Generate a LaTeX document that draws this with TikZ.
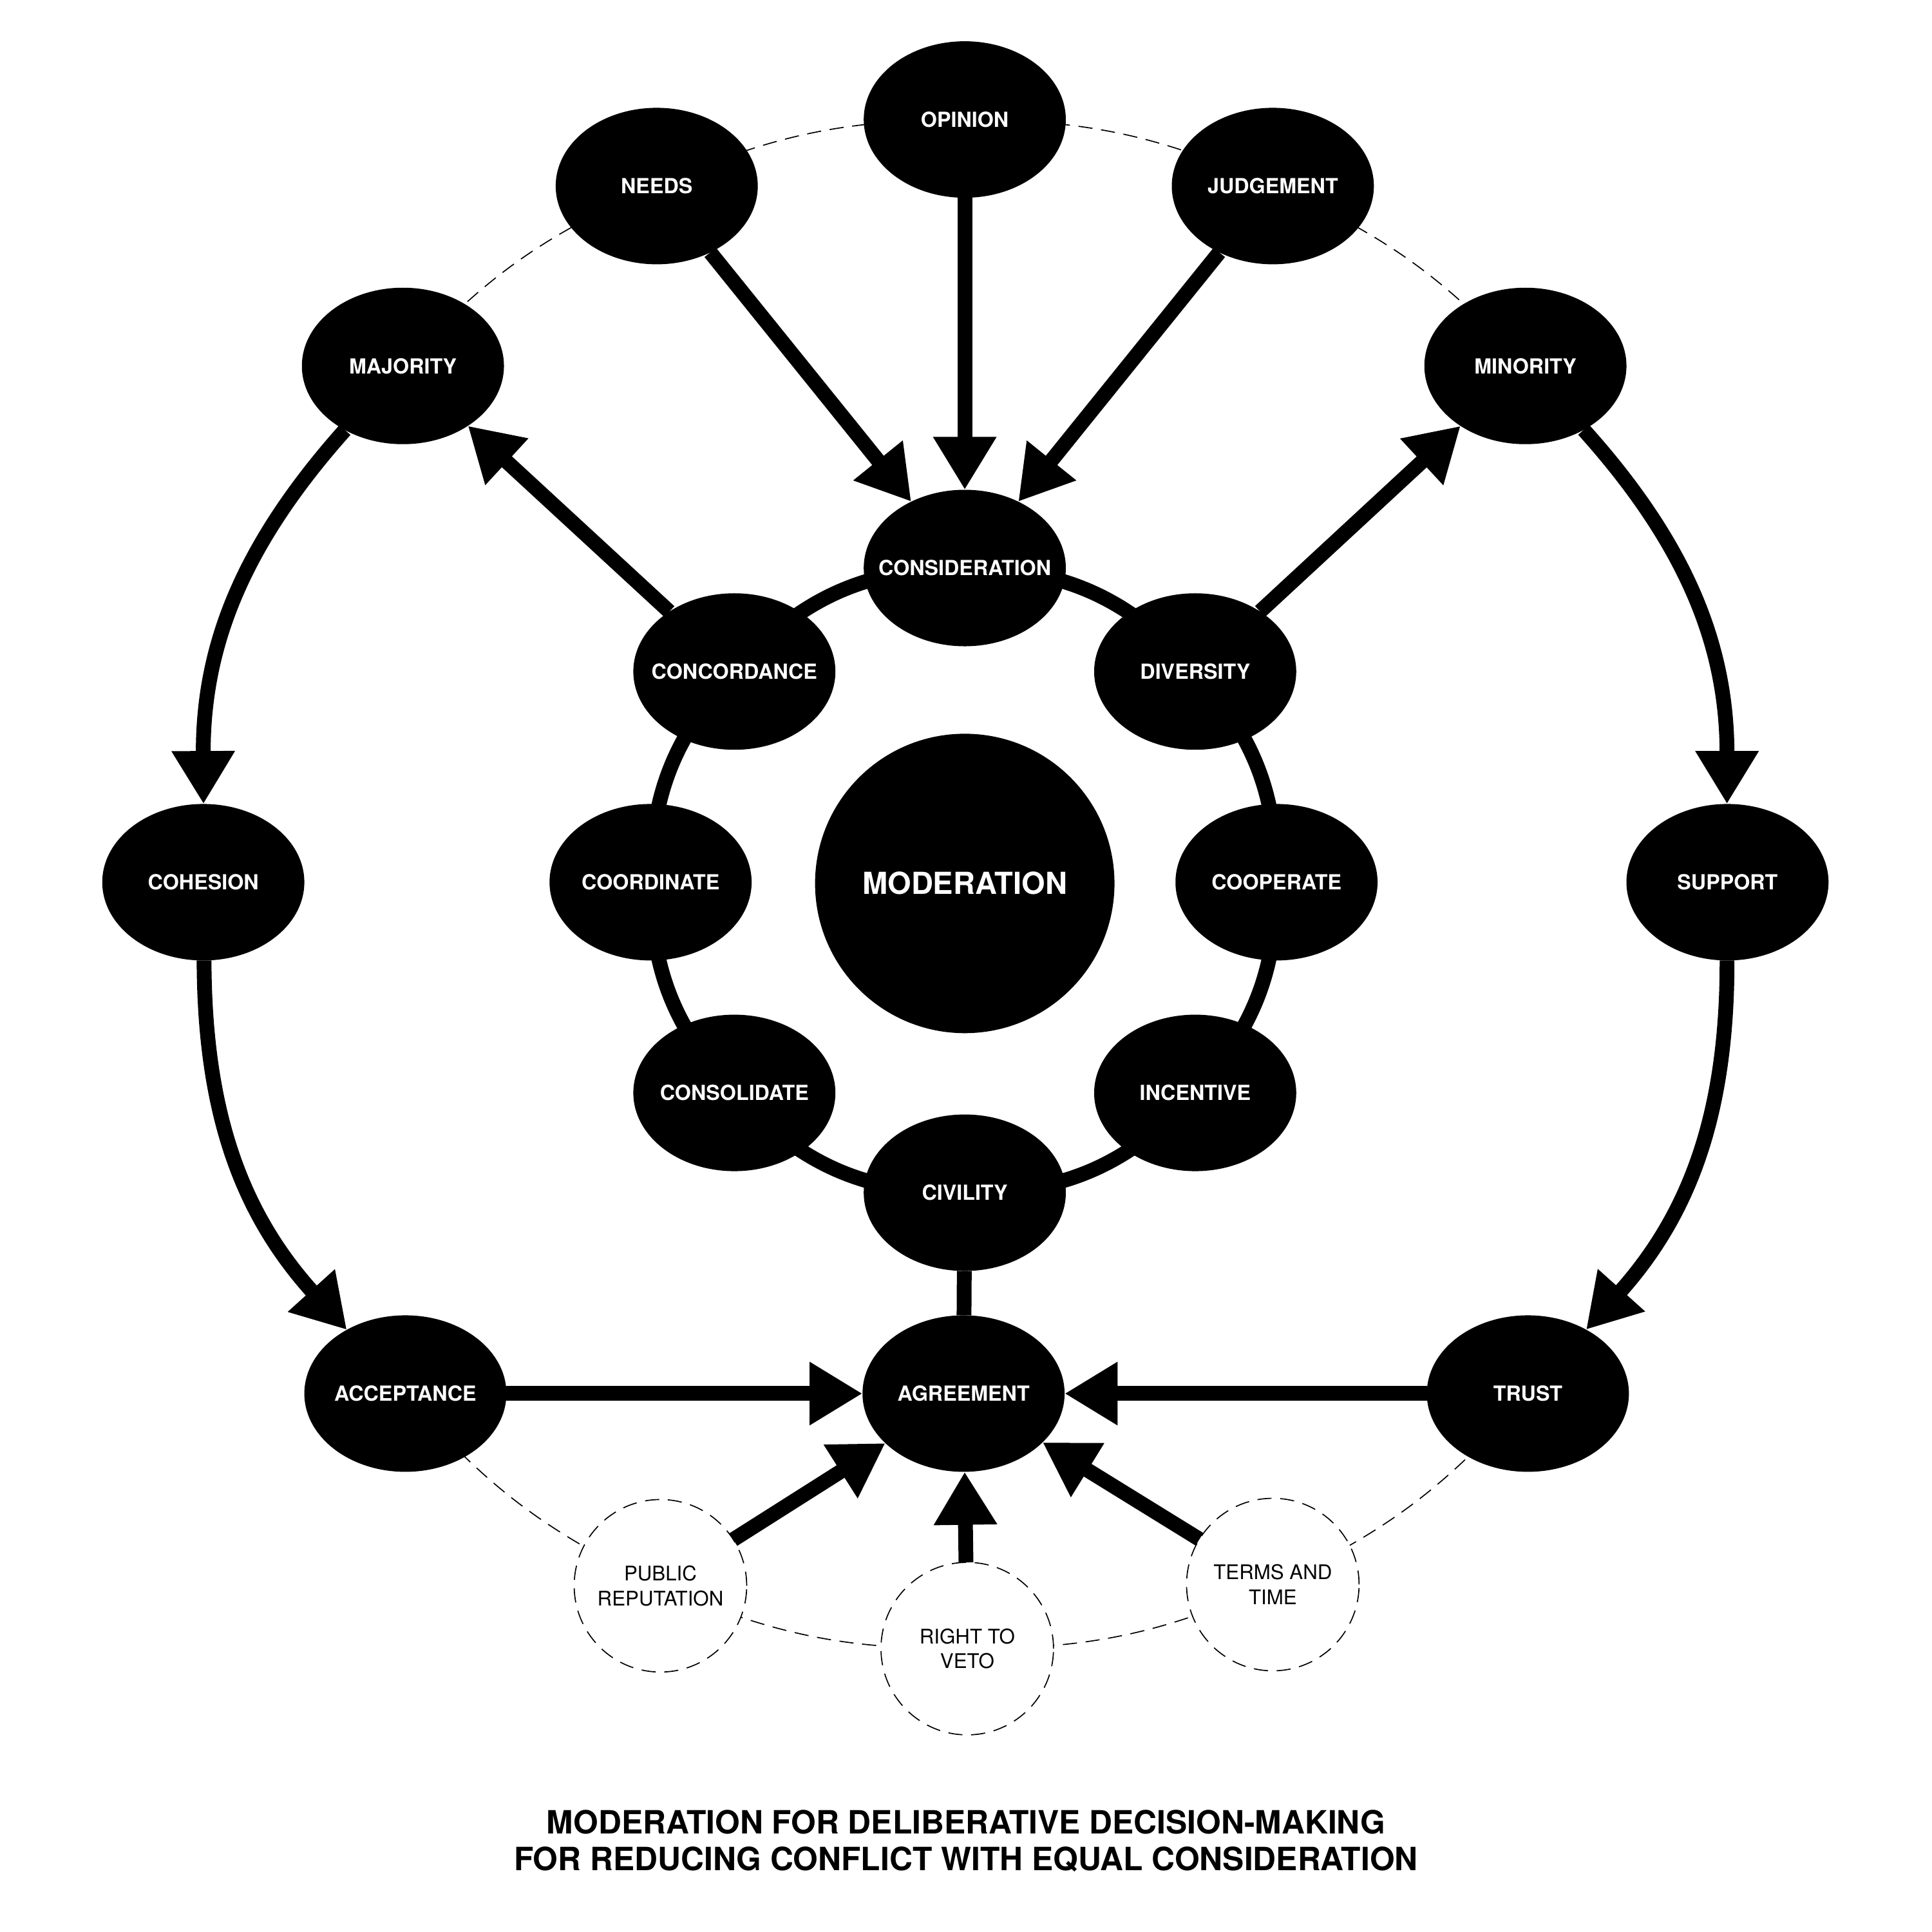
\documentclass[tikz,border=0pt]{standalone}
\usepackage{fontspec}
\setsansfont{TeX Gyre Heros}
\usetikzlibrary{shapes.geometric,arrows.meta,backgrounds}

\begin{document}
\begin{tikzpicture}[x=0.2mm, y=0.2mm,
  bub/.style={ellipse, fill=black, text=white, minimum width=32.8mm, minimum height=25.4mm,
    inner xsep=-5mm, inner ysep=0pt, outer sep=0pt, font=\sffamily\bfseries\fontsize{9.6}{11}\selectfont},
  hub/.style={circle, fill=black, text=white, minimum size=48.6mm, inner sep=0pt, outer sep=0pt,
    font=\sffamily\bfseries\fontsize{14}{16}\selectfont},
  opt/.style={circle, draw, fill=white, line width=0.5pt, dash pattern=on 2.3mm off 1.4mm, minimum size=28mm,
    inner sep=0pt, outer sep=0pt, align=center, font=\sffamily\fontsize{9.3}{11.5}\selectfont},
  link/.style={line width=2.4mm},
  arr/.style={line width=2.4mm, -{Triangle[width=9.7mm,length=8.6mm]}},
  dashlink/.style={line width=0.5pt, dash pattern=on 2.3mm off 1.4mm}]
\useasboundingbox (0,0) rectangle (1568,-1568);

% Outer circle, top
\node[bub] (opinion) at (783,-97) {OPINION};
\node[bub] (needs) at (533,-151) {NEEDS};
\node[bub] (judge) at (1033,-151) {JUDGEMENT};
\node[bub] (major) at (327,-297) {MAJORITY};
\node[bub] (minor) at (1238,-297) {MINORITY};

% Outer circle, sides
\node[bub] (cohes) at (165,-716) {COHESION};
\node[bub] (supp) at (1402,-716) {SUPPORT};

% Outer circle, bottom
\node[bub] (accept) at (329,-1131) {ACCEPTANCE};
\node[bub] (agree) at (782,-1131) {AGREEMENT};
\node[bub] (trust) at (1240,-1131) {TRUST};
\node[opt] (public) at (536,-1287) {PUBLIC\\REPUTATION};
\node[opt] (veto) at (785,-1338) {RIGHT TO\\VETO};
\node[opt] (terms) at (1033,-1286) {TERMS AND\\TIME};

% Inner ring
\node[hub] (moder) at (783,-717) {MODERATION};
\node[bub] (consid) at (783,-461) {CONSIDERATION};
\node[bub] (concord) at (596,-545) {CONCORDANCE};
\node[bub] (divers) at (970,-545) {DIVERSITY};
\node[bub] (coord) at (528,-716) {COORDINATE};
\node[bub] (coop) at (1036,-716) {COOPERATE};
\node[bub] (consol) at (596,-887) {CONSOLIDATE};
\node[bub] (incent) at (970,-887) {INCENTIVE};
\node[bub] (civil) at (783,-968) {CIVILITY};

\begin{scope}[on background layer]
% Ring links
\draw[link] (consid.center) to[bend right=24] (concord.center);
\draw[link] (concord.center) to[bend right=21] (coord.center);
\draw[link] (coord.center) to[bend right=21] (consol.center);
\draw[link] (consol.center) to[bend right=24] (civil.center);
\draw[link] (civil.center) to[bend right=24] (incent.center);
\draw[link] (incent.center) to[bend right=21] (coop.center);
\draw[link] (coop.center) to[bend right=21] (divers.center);
\draw[link] (divers.center) to[bend right=24] (consid.center);
\draw[link] (civil) -- (agree);

% Dashed links
\draw[dashlink] (major.center) to[bend left=12] (needs.center);
\draw[dashlink] (needs.center) to[bend left=12] (opinion.center);
\draw[dashlink] (opinion.center) to[bend left=12] (judge.center);
\draw[dashlink] (judge.center) to[bend left=12] (minor.center);
\draw[dashlink] (trust.center) to[bend left=12] (terms.center);
\draw[dashlink] (terms.center) to[bend left=12] (veto.center);
\draw[dashlink] (veto.center) to[bend left=12] (public.center);
\draw[dashlink] (public.center) to[bend left=12] (accept.center);
\end{scope}

% Arrows
\draw[arr] (needs) -- (consid);
\draw[arr] (opinion) -- (consid);
\draw[arr] (judge) -- (consid);
\draw[arr] (concord) -- (major);
\draw[arr] (divers) -- (minor);
\draw[arr] (major) to[bend right=21] (cohes);
\draw[arr] (cohes) to[bend right=21] (accept);
\draw[arr] (minor) to[bend left=21] (supp);
\draw[arr] (supp) to[bend left=21] (trust);
\draw[arr] (accept) -- (agree);
\draw[arr] (trust) -- (agree);
\draw[arr] (public) -- (agree);
\draw[arr] (veto) -- (agree);
\draw[arr] (terms) -- (agree);

% Title
\node[align=center, font=\sffamily\bfseries\fontsize{14.8}{17}\selectfont] (title) at (784,-1494)
  {MODERATION FOR DELIBERATIVE DECISION-MAKING\\FOR REDUCING CONFLICT WITH EQUAL CONSIDERATION};
\end{tikzpicture}
\end{document}
